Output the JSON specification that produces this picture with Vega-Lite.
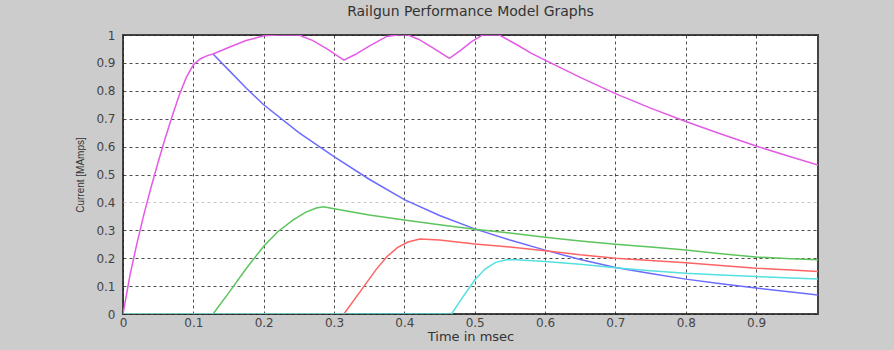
{
  "$schema": "https://vega.github.io/schema/vega-lite/v6.json",
  "width": 695,
  "height": 279,
  "autosize": {"type": "none"},
  "padding": {"left": 123, "top": 35, "right": 76, "bottom": 36},
  "background": "#cccccc",
  "title": {"text": "Railgun Performance Model Graphs", "font": "DejaVu Sans", "fontSize": 14, "fontWeight": "normal", "color": "#333333", "offset": 10, "anchor": "middle"},
  "config": {
    "view": {"fill": "#ffffff", "stroke": "#444444", "strokeWidth": 2},
    "axis": {"gridColor": "#222222", "gridDash": [3, 3], "gridOpacity": 0.8, "gridWidth": 1, "ticks": false, "domain": false, "labelFont": "DejaVu Sans", "labelFontSize": 12, "labelColor": "#444444", "titleFont": "DejaVu Sans", "titleFontWeight": "normal", "titleColor": "#333333"}
  },
  "data": {"values": [
    {"s": "s1", "t": 0.128, "v": 0.932}, {"s": "s1", "t": 0.15, "v": 0.875}, {"s": "s1", "t": 0.175, "v": 0.81}, {"s": "s1", "t": 0.2, "v": 0.75}, {"s": "s1", "t": 0.25, "v": 0.65}, {"s": "s1", "t": 0.3, "v": 0.564}, {"s": "s1", "t": 0.35, "v": 0.483}, {"s": "s1", "t": 0.4, "v": 0.41}, {"s": "s1", "t": 0.45, "v": 0.353}, {"s": "s1", "t": 0.5, "v": 0.305}, {"s": "s1", "t": 0.55, "v": 0.265}, {"s": "s1", "t": 0.6, "v": 0.229}, {"s": "s1", "t": 0.65, "v": 0.195}, {"s": "s1", "t": 0.7, "v": 0.167}, {"s": "s1", "t": 0.75, "v": 0.145}, {"s": "s1", "t": 0.8, "v": 0.125}, {"s": "s1", "t": 0.85, "v": 0.108}, {"s": "s1", "t": 0.9, "v": 0.093}, {"s": "s1", "t": 0.95, "v": 0.079}, {"s": "s1", "t": 0.988, "v": 0.068},
    {"s": "s2", "t": 0, "v": 0}, {"s": "s2", "t": 0.128, "v": 0}, {"s": "s2", "t": 0.15, "v": 0.075}, {"s": "s2", "t": 0.175, "v": 0.162}, {"s": "s2", "t": 0.2, "v": 0.243}, {"s": "s2", "t": 0.22, "v": 0.295}, {"s": "s2", "t": 0.242, "v": 0.337}, {"s": "s2", "t": 0.26, "v": 0.365}, {"s": "s2", "t": 0.275, "v": 0.38}, {"s": "s2", "t": 0.285, "v": 0.384}, {"s": "s2", "t": 0.3, "v": 0.377}, {"s": "s2", "t": 0.35, "v": 0.355}, {"s": "s2", "t": 0.4, "v": 0.337}, {"s": "s2", "t": 0.45, "v": 0.32}, {"s": "s2", "t": 0.5, "v": 0.304}, {"s": "s2", "t": 0.55, "v": 0.29}, {"s": "s2", "t": 0.6, "v": 0.275}, {"s": "s2", "t": 0.65, "v": 0.262}, {"s": "s2", "t": 0.7, "v": 0.25}, {"s": "s2", "t": 0.75, "v": 0.24}, {"s": "s2", "t": 0.8, "v": 0.229}, {"s": "s2", "t": 0.85, "v": 0.216}, {"s": "s2", "t": 0.9, "v": 0.204}, {"s": "s2", "t": 0.95, "v": 0.198}, {"s": "s2", "t": 0.988, "v": 0.194},
    {"s": "s3", "t": 0, "v": 0}, {"s": "s3", "t": 0.314, "v": 0}, {"s": "s3", "t": 0.34, "v": 0.09}, {"s": "s3", "t": 0.36, "v": 0.16}, {"s": "s3", "t": 0.375, "v": 0.205}, {"s": "s3", "t": 0.39, "v": 0.238}, {"s": "s3", "t": 0.405, "v": 0.258}, {"s": "s3", "t": 0.422, "v": 0.269}, {"s": "s3", "t": 0.45, "v": 0.265}, {"s": "s3", "t": 0.5, "v": 0.251}, {"s": "s3", "t": 0.55, "v": 0.24}, {"s": "s3", "t": 0.6, "v": 0.227}, {"s": "s3", "t": 0.65, "v": 0.212}, {"s": "s3", "t": 0.7, "v": 0.2}, {"s": "s3", "t": 0.75, "v": 0.192}, {"s": "s3", "t": 0.8, "v": 0.184}, {"s": "s3", "t": 0.85, "v": 0.174}, {"s": "s3", "t": 0.9, "v": 0.164}, {"s": "s3", "t": 0.95, "v": 0.158}, {"s": "s3", "t": 0.988, "v": 0.152},
    {"s": "s4", "t": 0, "v": 0}, {"s": "s4", "t": 0.467, "v": 0}, {"s": "s4", "t": 0.48, "v": 0.05}, {"s": "s4", "t": 0.5, "v": 0.122}, {"s": "s4", "t": 0.515, "v": 0.162}, {"s": "s4", "t": 0.53, "v": 0.185}, {"s": "s4", "t": 0.545, "v": 0.194}, {"s": "s4", "t": 0.56, "v": 0.194}, {"s": "s4", "t": 0.6, "v": 0.188}, {"s": "s4", "t": 0.65, "v": 0.178}, {"s": "s4", "t": 0.7, "v": 0.166}, {"s": "s4", "t": 0.75, "v": 0.155}, {"s": "s4", "t": 0.8, "v": 0.146}, {"s": "s4", "t": 0.85, "v": 0.14}, {"s": "s4", "t": 0.9, "v": 0.134}, {"s": "s4", "t": 0.95, "v": 0.129}, {"s": "s4", "t": 0.988, "v": 0.125},
    {"s": "s5", "t": 0, "v": 0}, {"s": "s5", "t": 0.01, "v": 0.14}, {"s": "s5", "t": 0.02, "v": 0.255}, {"s": "s5", "t": 0.03, "v": 0.36}, {"s": "s5", "t": 0.04, "v": 0.455}, {"s": "s5", "t": 0.05, "v": 0.545}, {"s": "s5", "t": 0.06, "v": 0.63}, {"s": "s5", "t": 0.07, "v": 0.71}, {"s": "s5", "t": 0.08, "v": 0.785}, {"s": "s5", "t": 0.09, "v": 0.848}, {"s": "s5", "t": 0.1, "v": 0.893}, {"s": "s5", "t": 0.11, "v": 0.915}, {"s": "s5", "t": 0.12, "v": 0.926}, {"s": "s5", "t": 0.128, "v": 0.932}, {"s": "s5", "t": 0.15, "v": 0.955}, {"s": "s5", "t": 0.175, "v": 0.98}, {"s": "s5", "t": 0.2, "v": 0.997}, {"s": "s5", "t": 0.22, "v": 1.0}, {"s": "s5", "t": 0.25, "v": 1.0}, {"s": "s5", "t": 0.27, "v": 0.98}, {"s": "s5", "t": 0.29, "v": 0.95}, {"s": "s5", "t": 0.314, "v": 0.91}, {"s": "s5", "t": 0.33, "v": 0.93}, {"s": "s5", "t": 0.35, "v": 0.96}, {"s": "s5", "t": 0.375, "v": 0.995}, {"s": "s5", "t": 0.39, "v": 1.0}, {"s": "s5", "t": 0.405, "v": 1.0}, {"s": "s5", "t": 0.42, "v": 0.985}, {"s": "s5", "t": 0.44, "v": 0.955}, {"s": "s5", "t": 0.464, "v": 0.916}, {"s": "s5", "t": 0.48, "v": 0.945}, {"s": "s5", "t": 0.495, "v": 0.975}, {"s": "s5", "t": 0.511, "v": 1.0}, {"s": "s5", "t": 0.535, "v": 1.0}, {"s": "s5", "t": 0.56, "v": 0.965}, {"s": "s5", "t": 0.58, "v": 0.935}, {"s": "s5", "t": 0.6, "v": 0.91}, {"s": "s5", "t": 0.65, "v": 0.848}, {"s": "s5", "t": 0.7, "v": 0.79}, {"s": "s5", "t": 0.75, "v": 0.738}, {"s": "s5", "t": 0.8, "v": 0.69}, {"s": "s5", "t": 0.85, "v": 0.645}, {"s": "s5", "t": 0.9, "v": 0.602}, {"s": "s5", "t": 0.95, "v": 0.563}, {"s": "s5", "t": 0.988, "v": 0.534}
  ]},
  "mark": {"type": "line", "strokeWidth": 1.5, "clip": true},
  "encoding": {
    "x": {"field": "t", "type": "quantitative", "scale": {"domain": [0, 0.988], "nice": false, "zero": false},
      "axis": {"values": [0, 0.1, 0.2, 0.3, 0.4, 0.5, 0.6, 0.7, 0.8, 0.9], "labelExpr": "datum.value == 0 ? '0' : format(datum.value, '.1f')", "title": "Time in msec", "titleFontSize": 13, "titlePadding": 2, "labelPadding": 3, "labelFlush": false}},
    "y": {"field": "v", "type": "quantitative", "scale": {"domain": [0, 1], "nice": false},
      "axis": {"values": [0, 0.1, 0.2, 0.3, 0.4, 0.5, 0.6, 0.7, 0.8, 0.9, 1], "labelExpr": "datum.value == 0 ? '0' : datum.value == 1 ? '1' : format(datum.value, '.1f')", "title": "Current [MAmps]", "titleFontSize": 10, "titleFont": "Liberation Sans", "titlePadding": 10, "labelPadding": 8,
        "gridColor": {"condition": {"test": "abs(datum.value - 0.4) < 0.001", "value": "#bbbbbb"}, "value": "#222222"}}},
    "color": {"field": "s", "type": "nominal", "legend": null,
      "scale": {"domain": ["s1", "s2", "s3", "s4", "s5"], "range": ["#6b6bff", "#5cc45c", "#ff6464", "#55e0e0", "#e35ae6"]}}
  }
}
